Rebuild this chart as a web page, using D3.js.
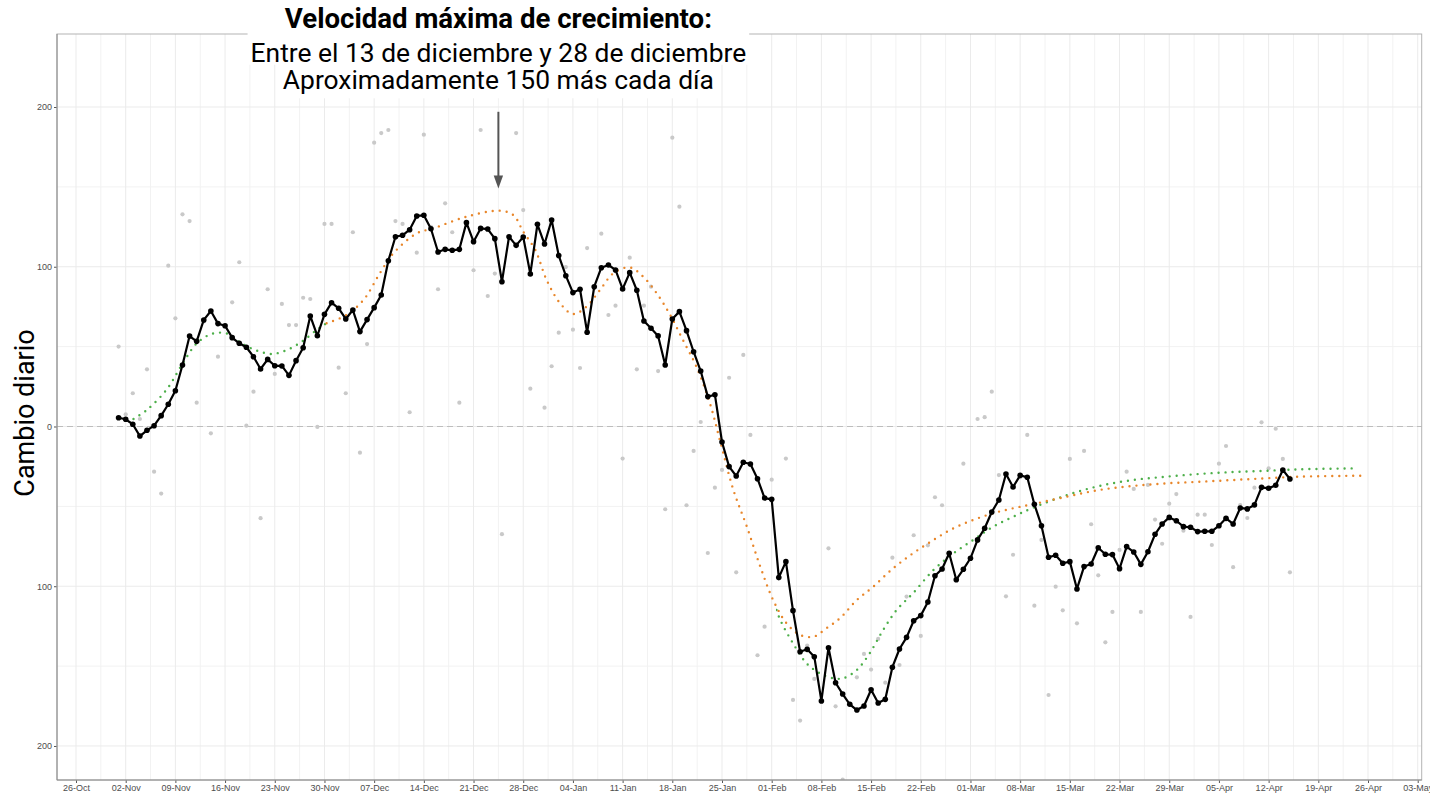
<!DOCTYPE html>
<html>
<head>
<meta charset="utf-8">
<script src="https://cdn.jsdelivr.net/npm/d3@7"></script>
<style>
  body { margin: 0; background: #fff; }
</style>
</head>
<body>
<script>
// ---- data ----
// daily series start on this day
var firstDay = '2020-11-01';

// grey dots: raw daily change (null = off the plotted range)
var dailyChange = [
  50, 7.6, 20.8, 4.7, 35.8, -28.3, -42, 100.7, 67.7, 132.8, 128.6, 14.9, 65.7, -4.3, 43.7,
  62.9, 77.7, 102.8, 0.5, 21.8, -57.4, 85.9, 32.9, 76.7, 63.5, 63.5, 80.6, 79.8, -0.3, 126.8,
  126.8, 36.8, 20.8, 121.6, -16.4, 51.6, 177.7, 183.7, 185.6, 128.6, 126.8, 8.9, 108.8, 182.7, 124.9,
  85.9, 139.7, 121.6, 14.9, 225.7, 97.8, 185.6, 81.7, 95.7, -67.4, 212.3, 183.7, 135.5, 23.7, null, 11.8,
  37.7, 58.7, 99.8, 60.6, 36.6, 111.7, 211.3, 120.7, 69.8, 75.6, -20.1, 105.7, 35.8, 75.6, 87.5,
  34.7, -51.8, 180.8, 137.6, -49.3, -15.3, 2.8, -79.2, -38.3, -27.2, 30.5, -91.3, 44.8, -5.3, -143.2, -125.3,
  -33.3, null, -20.1, -171.2, -184.1, -137.2, -158, null, -76.3, -175.2, -221, null, -157, -142.4,
  -152.2, -133, -160.4, -82.1, -149.3, -106.5, -68.1, -131.1, -74.4, -44.3, -49.3, -80.7, null, -23.3,
  -82.8, 4.7, 5.8, 21.8, -30.4, -106.3, -80.3, -31.7, -5.3, -112.2, -71, -168.1, -100.3, -115.1, -20.3,
  -123.2, -15.3, -61.2, -93.2, -135.1, -116.1, -77.3, -28.3, -39.1, -116.1, -36.6, -58.3, -73.4, -48.3, -42.3, -65.2,
  -119.2, -55.2, -55.2, -74.2, -23.3, -12.2, -88.1, -49.2, -57.3, -38.3, 2.6, -26.2, -1.4, -20.3, -91.3
];

// black line: 7 day mean
var rollingMean = [
  5.5, 4.5, 1.4, -6, -2.4, 0.5, 6.8, 13.9, 22.4, 38.5, 56.6, 53.3, 66.7, 72.3, 64.4,
  63.1, 55.6, 52.1, 49.6, 43.7, 36, 42, 38, 37.9, 32, 41.2, 49.3, 69.2, 56.8, 70.2,
  77.5, 74, 67.3, 72.9, 59.4, 66.9, 74.4, 82.3, 103.8, 118.8, 119.7, 123.2, 131.8, 132.2, 123.8,
  109.2, 110.9, 110.3, 110.9, 127.6, 115.7, 124, 123.6, 117.6, 90.6, 118.8, 113.4, 118.6, 95.5, 126.6, 114.2,
  129.3, 107, 94.4, 83.8, 85.9, 59, 87.5, 99.4, 101.1, 98, 86.1, 96.3, 85.3, 66, 61.5,
  56.7, 38.5, 67.3, 71.9, 60, 46.8, 34.7, 18.7, 19.9, -9.7, -25.1, -31, -22.4, -23.5, -32.7, -44.8,
  -45.6, -94.6, -84.6, -115.3, -141, -139.5, -144.1, -171.8, -138.5, -160.4, -167.5, -173.9, -177.5, -175,
  -164.8, -173.1, -170.8, -150.7, -139.3, -132, -121.6, -118.4, -109.9, -93.4, -89.2, -79.4, -95.9, -89.4,
  -82.5, -71, -63.7, -53.5, -46, -29.7, -37.9, -30.6, -31.8, -48.7, -62.1, -81.9, -80.6, -85.6, -84.6,
  -101.7, -87.7, -86.1, -75.9, -80, -80.2, -89, -75.2, -78.6, -86.3, -78.4, -67.5, -61, -56.9, -59, -62.7,
  -63.1, -65.8, -65.6, -65.6, -62.1, -57.5, -61, -51, -51.6, -49.1, -38.1, -38.7, -36.8, -27.2, -32.9
];

// fitted curves, x given as days after this date
var fitOrigin = '2020-10-26';

var greenDays = [8.1, 10.1, 12.8, 14.9, 17, 19.1, 21.2, 23.3, 25.5, 27.6, 29.7, 31.8, 33.9, 35.3,
  38.1, 40.5, 42.8, 44.7, 48, 50.3, 55, 59.7, 61.6, 63, 64.7, 66.3, 68.2, 70, 71.9, 73.8, 75.7,
  78, 79.9, 81.8, 83.7, 85.5, 87.4, 89.3, 90.7, 92.6, 94.5, 96.4, 98.2, 99.2, 101, 102.9, 104.8,
  106.7, 108.1, 110, 111.8, 113.7, 115.6, 117.9, 120.8, 123.6, 126.4, 129.2, 132, 134.9, 139.6,
  144.2, 148.9, 153.6, 158.3, 163, 167.7, 172.4, 180.5];
var greenVals = [4.7, 10.8, 23.3, 38.5, 52, 57.9, 58.3, 52, 47.5, 45.4, 47.9, 53.1, 60.4, 64.6,
  69.8, 79.2, 95.9, 108.4, 120.9, 124, 131.3, 135.1, 132.4, 122, 110.5, 91.7, 77.1, 70.4, 75, 85.4, 95.9,
  99.6, 93.8, 83.4, 69.8, 54.1, 37.4, 14.5, -8.5, -39.7, -62.7, -87.8, -108.6, -121, -135.7, -148.2, -154.5,
  -157.6, -157.6, -152.4, -142, -127.4, -114.9, -104.4, -89.8, -79.4, -71, -62.7, -56.5, -50.7, -42.9,
  -37.2, -33.5, -31.4, -29.7, -28.5, -27.7, -26.8, -26.2];

var orangeDays = [35.3, 38.1, 40.5, 42.8, 44.7, 48, 50.3, 55, 59.7, 61.6, 63, 64.7, 66.3, 68.2, 70,
  71.9, 73.8, 75.7, 78, 79.9, 81.8, 83.7, 85.5, 87.4, 89.3, 90.7, 92.6, 94.5, 96.4, 98.2, 100.1, 102,
  103.9, 105.7, 107.6, 110, 112.3, 115.1, 117.9, 120.8, 123.6, 126.4, 129.2, 132, 134.9, 139.6, 144.2,
  148.9, 153.6, 158.3, 163, 167.7, 172.4, 180.9];
var orangeVals = [64.6, 69.8, 79.2, 95.9, 108.4, 120.9, 124, 131.3, 135.1, 132.4, 122, 110.5, 91.7, 77.1, 70.4,
  75, 85.4, 95.9, 99.6, 93.8, 83.4, 69.8, 54.1, 37.4, 14.5, -8.5, -39.7, -62.7, -87.8, -108.6, -123.2, -130.5,
  -131.6, -126.3, -120.1, -108.6, -100.3, -88.8, -79.4, -71, -63.7, -58.5, -54.3, -51.2, -48.5, -43.9, -39.7,
  -37.2, -35.6, -34.6, -33.5, -32.4, -31.4, -30.8];

var yTicks = [-200, -100, 0, 100, 200];
var yMinor = [-150, -50, 50, 150];

var annotationLines = [
  'Velocidad máxima de crecimiento:',
  'Entre el 13 de diciembre y 28 de diciembre',
  'Aproximadamente 150 más cada día'
];
var arrowDay = 59.5;          // days after fitOrigin
var arrowFrom = 197, arrowTo = 149;

// ---- layout ----
var width = 1430, height = 796;
var panel = { left: 57, top: 34, right: 1421.7, bottom: 780 };
var DAY = 864e5;

var svg = d3.select('body').append('svg')
    .attr('width', width)
    .attr('height', height)
    .style('font-family', 'Liberation Sans, Arial, sans-serif');

var origin = d3.utcParse('%Y-%m-%d')(fitOrigin);
var start = d3.utcParse('%Y-%m-%d')(firstDay);
var byDay = function(d) { return new Date(origin.getTime() + d * DAY); };

var x = d3.scaleUtc()
    .domain([byDay(-2.676), byDay(189.563)])
    .range([panel.left, panel.right]);
var y = d3.scaleLinear()
    .domain([-221.3, 245.7])
    .range([panel.bottom, panel.top]);

var daily = dailyChange.map(function(v, i) {
  return { date: d3.utcDay.offset(start, i), raw: v, mean: rollingMean[i] };
});

var defs = svg.append('defs');
defs.append('clipPath').attr('id', 'clip')
  .append('rect')
    .attr('x', panel.left).attr('y', panel.top)
    .attr('width', panel.right - panel.left)
    .attr('height', panel.bottom - panel.top);

// green curve sits under the orange one where both coincide
var gClip = defs.append('clipPath').attr('id', 'greenClip');
gClip.append('rect')
    .attr('x', panel.left).attr('y', panel.top)
    .attr('width', x(byDay(orangeDays[0])) - panel.left)
    .attr('height', panel.bottom - panel.top);
gClip.append('rect')
    .attr('x', x(byDay(98.6))).attr('y', panel.top)
    .attr('width', panel.right - x(byDay(98.6)))
    .attr('height', panel.bottom - panel.top);

// grid
var grid = svg.append('g');
var weeks = x.ticks(d3.utcMonday.every(1));
var midWeeks = weeks.map(function(d) { return new Date(d.getTime() + 3.5 * DAY); })
    .concat([new Date(weeks[0].getTime() - 3.5 * DAY)])
    .filter(function(d) { return d >= x.domain()[0] && d <= x.domain()[1]; });

grid.selectAll('.vminor').data(midWeeks).enter().append('line')
    .attr('x1', function(d) { return x(d); }).attr('x2', function(d) { return x(d); })
    .attr('y1', panel.top).attr('y2', panel.bottom)
    .attr('stroke', '#f2f2f2').attr('stroke-width', 1);
grid.selectAll('.hminor').data(yMinor).enter().append('line')
    .attr('x1', panel.left).attr('x2', panel.right)
    .attr('y1', function(d) { return y(d); }).attr('y2', function(d) { return y(d); })
    .attr('stroke', '#f2f2f2').attr('stroke-width', 1);
grid.selectAll('.vmajor').data(weeks).enter().append('line')
    .attr('x1', function(d) { return x(d); }).attr('x2', function(d) { return x(d); })
    .attr('y1', panel.top).attr('y2', panel.bottom)
    .attr('stroke', '#ebebeb').attr('stroke-width', 1);
grid.selectAll('.hmajor').data(yTicks).enter().append('line')
    .attr('x1', panel.left).attr('x2', panel.right)
    .attr('y1', function(d) { return y(d); }).attr('y2', function(d) { return y(d); })
    .attr('stroke', '#ebebeb').attr('stroke-width', 1);

// zero reference
svg.append('line')
    .attr('x1', panel.left).attr('x2', panel.right)
    .attr('y1', y(0)).attr('y2', y(0))
    .attr('stroke', '#bdbdbd').attr('stroke-width', 1.1)
    .attr('stroke-dasharray', '6,4');

var plot = svg.append('g').attr('clip-path', 'url(#clip)');

// raw daily dots
plot.selectAll('.raw')
    .data(daily.filter(function(d) { return d.raw !== null; }))
    .enter().append('circle')
    .attr('cx', function(d) { return x(d.date); })
    .attr('cy', function(d) { return y(d.raw); })
    .attr('r', 2.1)
    .attr('fill', '#c9c9c9');

// fitted curves (dotted)
var fitLine = d3.line()
    .x(function(d) { return x(byDay(d[0])); })
    .y(function(d) { return y(d[1]); })
    .curve(d3.curveCatmullRom.alpha(0.5));

plot.append('g').attr('clip-path', 'url(#greenClip)')
  .append('path')
    .datum(d3.zip(greenDays, greenVals))
    .attr('d', fitLine)
    .attr('fill', 'none')
    .attr('stroke', '#4daf4a')
    .attr('stroke-width', 2.4)
    .attr('stroke-linecap', 'round')
    .attr('stroke-dasharray', '0,7');

plot.append('path')
    .datum(d3.zip(orangeDays, orangeVals))
    .attr('d', fitLine)
    .attr('fill', 'none')
    .attr('stroke', '#e8862a')
    .attr('stroke-width', 2.4)
    .attr('stroke-linecap', 'round')
    .attr('stroke-dasharray', '0,7');

// 7 day mean
var meanLine = d3.line()
    .x(function(d) { return x(d.date); })
    .y(function(d) { return y(d.mean); });

plot.append('path')
    .datum(daily)
    .attr('d', meanLine)
    .attr('fill', 'none')
    .attr('stroke', '#000')
    .attr('stroke-width', 2.2)
    .attr('stroke-linejoin', 'round');

plot.selectAll('.mean')
    .data(daily)
    .enter().append('circle')
    .attr('cx', function(d) { return x(d.date); })
    .attr('cy', function(d) { return y(d.mean); })
    .attr('r', 2.8)
    .attr('fill', '#000');

// axes
var xAxis = svg.append('g')
    .attr('transform', 'translate(0,' + panel.bottom + ')')
    .call(d3.axisBottom(x).tickValues(weeks).tickFormat(d3.utcFormat('%d-%b')).tickSize(3).tickPadding(2));
var yAxis = svg.append('g')
    .attr('transform', 'translate(' + panel.left + ',0)')
    .call(d3.axisLeft(y).tickValues(yTicks).tickFormat(function(d) { return String(Math.abs(d)); }).tickSize(3).tickPadding(2));

[xAxis, yAxis].forEach(function(a) {
  a.select('.domain').remove();
  a.selectAll('line').attr('stroke', '#555');
  a.selectAll('text').attr('fill', '#4d4d4d')
    .style('font-size', '9px')
    .style('font-family', 'Liberation Sans, Arial, sans-serif');
});

// panel border + axis lines
svg.append('rect')
    .attr('x', panel.left).attr('y', panel.top)
    .attr('width', panel.right - panel.left)
    .attr('height', panel.bottom - panel.top)
    .attr('fill', 'none').attr('stroke', '#b3b3b3').attr('stroke-width', 1);
svg.append('path')
    .attr('d', 'M' + panel.left + ',' + panel.top + 'V' + panel.bottom + 'H' + panel.right)
    .attr('fill', 'none').attr('stroke', '#8a8a8a').attr('stroke-width', 1);

// y title
svg.append('text')
    .attr('transform', 'translate(34,413) rotate(-90)')
    .attr('text-anchor', 'middle')
    .style('font-family', 'Roboto, sans-serif')
    .style('font-size', '27px')
    .attr('fill', '#000')
    .text('Cambio diario');

// arrow
var ax = x(byDay(arrowDay));
svg.append('line')
    .attr('x1', ax).attr('x2', ax)
    .attr('y1', y(arrowFrom)).attr('y2', y(arrowTo) - 12)
    .attr('stroke', '#555').attr('stroke-width', 2);
svg.append('path')
    .attr('d', 'M' + (ax - 4.7) + ',' + (y(arrowTo) - 13) + 'L' + (ax + 4.7) + ',' + (y(arrowTo) - 13) +
      'L' + ax + ',' + y(arrowTo) + 'Z')
    .attr('fill', '#555');

// annotation labels with white boxes (boxes first, then text on top)
var baselines = [28.3, 61.7, 89.3];
var sizes = [27.6, 26.4, 26.4];
var boxes = [[-28, 4], [-30, 3], [-25.5, 9]];
var rects = svg.append('g'), texts = svg.append('g');
annotationLines.forEach(function(t, i) {
  var rect = rects.append('rect').attr('fill', '#fff');
  var txt = texts.append('text')
      .attr('x', ax)
      .attr('y', baselines[i])
      .attr('text-anchor', 'middle')
      .style('font-family', 'Roboto, sans-serif')
      .style('font-size', sizes[i] + 'px')
      .style('font-weight', i === 0 ? 700 : 400)
      .attr('fill', '#000')
      .text(t);
  var bb = txt.node().getBBox();
  rect.attr('x', bb.x - 3).attr('width', bb.width + 6)
      .attr('y', baselines[i] + boxes[i][0])
      .attr('height', boxes[i][1] - boxes[i][0]);
});
</script>
</body>
</html>
